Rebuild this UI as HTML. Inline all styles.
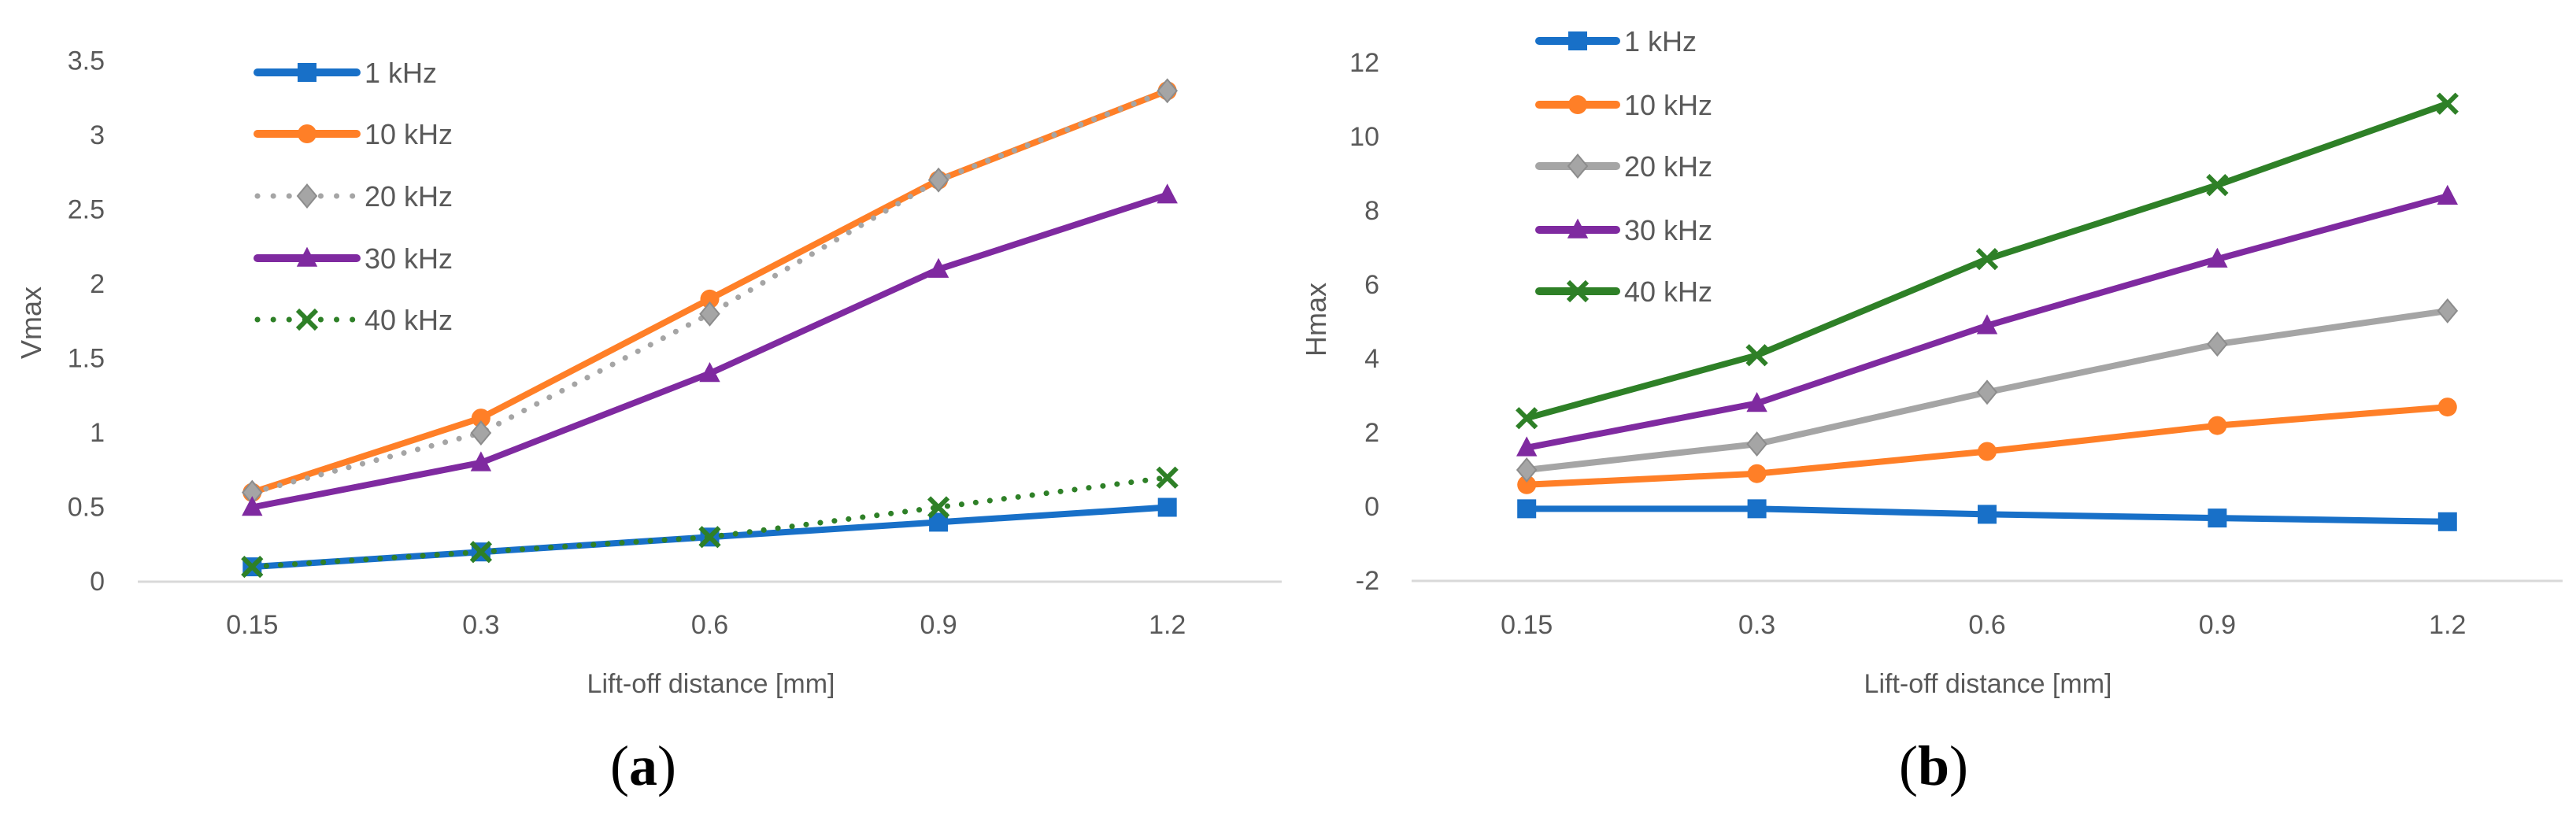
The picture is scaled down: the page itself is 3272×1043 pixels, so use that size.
<!DOCTYPE html>
<html><head><meta charset="utf-8"><style>
html,body{margin:0;padding:0;background:#fff;}
svg{display:block;font-family:"Liberation Sans",sans-serif;}
</style></head><body>
<svg id="fig" width="3272" height="1043" viewBox="0 0 3272 1043" xmlns="http://www.w3.org/2000/svg"></svg>
<script>
// ---- data ----
const categories = ["0.15","0.3","0.6","0.9","1.2"];
const seriesNames = ["1 kHz","10 kHz","20 kHz","30 kHz","40 kHz"];
const vmax1k  = [0.1,0.2,0.3,0.4,0.5];
const vmax10k = [0.6,1.1,1.9,2.7,3.3];
const vmax20k = [0.6,1.0,1.8,2.7,3.3];
const vmax30k = [0.5,0.8,1.4,2.1,2.6];
const vmax40k = [0.1,0.2,0.3,0.5,0.7];
const hmax1k  = [-0.05,-0.05,-0.2,-0.3,-0.4];
const hmax10k = [0.6,0.9,1.5,2.2,2.7];
const hmax20k = [1.0,1.7,3.1,4.4,5.3];
const hmax30k = [1.6,2.8,4.9,6.7,8.4];
const hmax40k = [2.4,4.1,6.7,8.7,10.9];
const vTicks = ["0","0.5","1","1.5","2","2.5","3","3.5"];
const hTicks = ["-2","0","2","4","6","8","10","12"];

const NS="http://www.w3.org/2000/svg";
const svg=document.getElementById('fig');
const colors=["#1870c8","#ff7f27","#a5a5a5","#7f2aa0","#2e8027"];
const markers=["square","circle","diamond","triangle","x"];
function mk(tag,attrs,parent){const e=document.createElementNS(NS,tag);for(const k in attrs)e.setAttribute(k,attrs[k]);(parent||svg).appendChild(e);return e;}

function marker(g,type,x,y,color,s){
  let e;
  if(type==="square"){e=mk('rect',{x:x-s/2,y:y-s/2,width:s,height:s,fill:color},g);}
  else if(type==="circle"){e=mk('circle',{cx:x,cy:y,r:s/2,fill:color},g);}
  else if(type==="diamond"){e=mk('polygon',{points:`${x},${y-s*0.6} ${x+s*0.5},${y} ${x},${y+s*0.6} ${x-s*0.5},${y}`,fill:color,stroke:"#8c8c8c","stroke-width":2},g);}
  else if(type==="triangle"){e=mk('polygon',{points:`${x},${y-s*0.6} ${x+s*0.55},${y+s*0.45} ${x-s*0.55},${y+s*0.45}`,fill:color},g);}
  else {e=mk('path',{d:`M${x-s/2},${y-s/2}L${x+s/2},${y+s/2}M${x+s/2},${y-s/2}L${x-s/2},${y+s/2}`,stroke:color,"stroke-width":6,fill:"none"},g);}
  
  
}

function panel(cfg){
  const g=mk('g',{});
  
  
  const xPos=i=>cfg.x0+cfg.band*(i+0.5);
  const yPos=v=>cfg.yZero-(v-cfg.yMin)*cfg.yScale;
  // axis line
  const ax=mk('line',{x1:cfg.x0,x2:cfg.x0+cfg.band*5,y1:cfg.yZero,y2:cfg.yZero,stroke:"#d9d9d9","stroke-width":3},g);
  
  
  cfg.ticks.forEach(t=>{
    const tx=mk('text',{x:cfg.tickRight,y:yPos(parseFloat(t))+11,"text-anchor":"end","font-size":34,fill:"#595959"},g);
    tx.textContent=t;
    
    
  });
  categories.forEach((c,i)=>{
    const tx=mk('text',{x:xPos(i),y:805,"text-anchor":"middle","font-size":34,fill:"#595959"},g);
    tx.textContent=c;
    
    
  });
  const xt=mk('text',{x:cfg.xTitleX,y:880,"text-anchor":"middle","font-size":34,fill:"#595959"},g);
  xt.textContent="Lift-off distance [mm]";
  
  
  const yt=mk('text',{x:0,y:0,"text-anchor":"middle","font-size":36,fill:"#595959",transform:`translate(${cfg.yTitleX},${cfg.yTitleY}) rotate(-90)`},g);
  yt.textContent=cfg.yTitle;
  
  
  const cap=mk('text',{x:cfg.capX,y:997,"text-anchor":"middle","font-size":72,fill:"#000","font-family":"Liberation Serif, serif"},g);
  cap.innerHTML='(<tspan font-weight="bold">'+cfg.cap+'</tspan>)';
  
  
  // series
  cfg.series.forEach((vals,si)=>{
    const sg=mk('g',{},g);
    
    
    const pts=vals.map((v,i)=>xPos(i)+','+yPos(v)).join(' ');
    const dotted=cfg.dotted[si];
    const pl=mk('polyline',{points:pts,fill:"none",stroke:colors[si],"stroke-width":dotted?7:8,"stroke-linejoin":"round","stroke-linecap":"round","stroke-dasharray":dotted?"0.1 18":"none"},sg);
    
    
    vals.forEach((v,i)=>marker(sg,markers[si],xPos(i),yPos(v),colors[si],24));
    // legend
    const ly=cfg.legY[si];
    const lg=mk('g',{},g);
    
    
    mk('line',{x1:cfg.legX1,x2:cfg.legX2,y1:ly,y2:ly,stroke:colors[si],"stroke-width":dotted?7:10,"stroke-linecap":"round","stroke-dasharray":dotted?"0.1 20":"none"},lg);
    marker(lg,markers[si],(cfg.legX1+cfg.legX2)/2,ly,colors[si],24);
    const lt=mk('text',{x:cfg.legX2+10,y:ly+13,"font-size":36,fill:"#595959"},lg);
    lt.textContent=seriesNames[si];
  });
}

panel({name:"chart-a-vmax",x0:175,band:290.6,yZero:739,yMin:0,yScale:189,ticks:vTicks,tickRight:133,
  xTitleX:903,yTitle:"Vmax",yTitleX:52,yTitleY:410,capX:817,cap:"a",
  series:[vmax1k,vmax10k,vmax20k,vmax30k,vmax40k],dotted:[false,false,true,false,true],
  legX1:327,legX2:453,legY:[92,170,249,328,406]});
panel({name:"chart-b-hmax",x0:1793,band:292.4,yZero:738,yMin:-2,yScale:47,ticks:hTicks,tickRight:1752,
  xTitleX:2525,yTitle:"Hmax",yTitleX:1684,yTitleY:406,capX:2456,cap:"b",
  series:[hmax1k,hmax10k,hmax20k,hmax30k,hmax40k],dotted:[false,false,false,false,false],
  legX1:1955,legX2:2053,legY:[52,133,211,292,370]});
</script>
</body></html>
